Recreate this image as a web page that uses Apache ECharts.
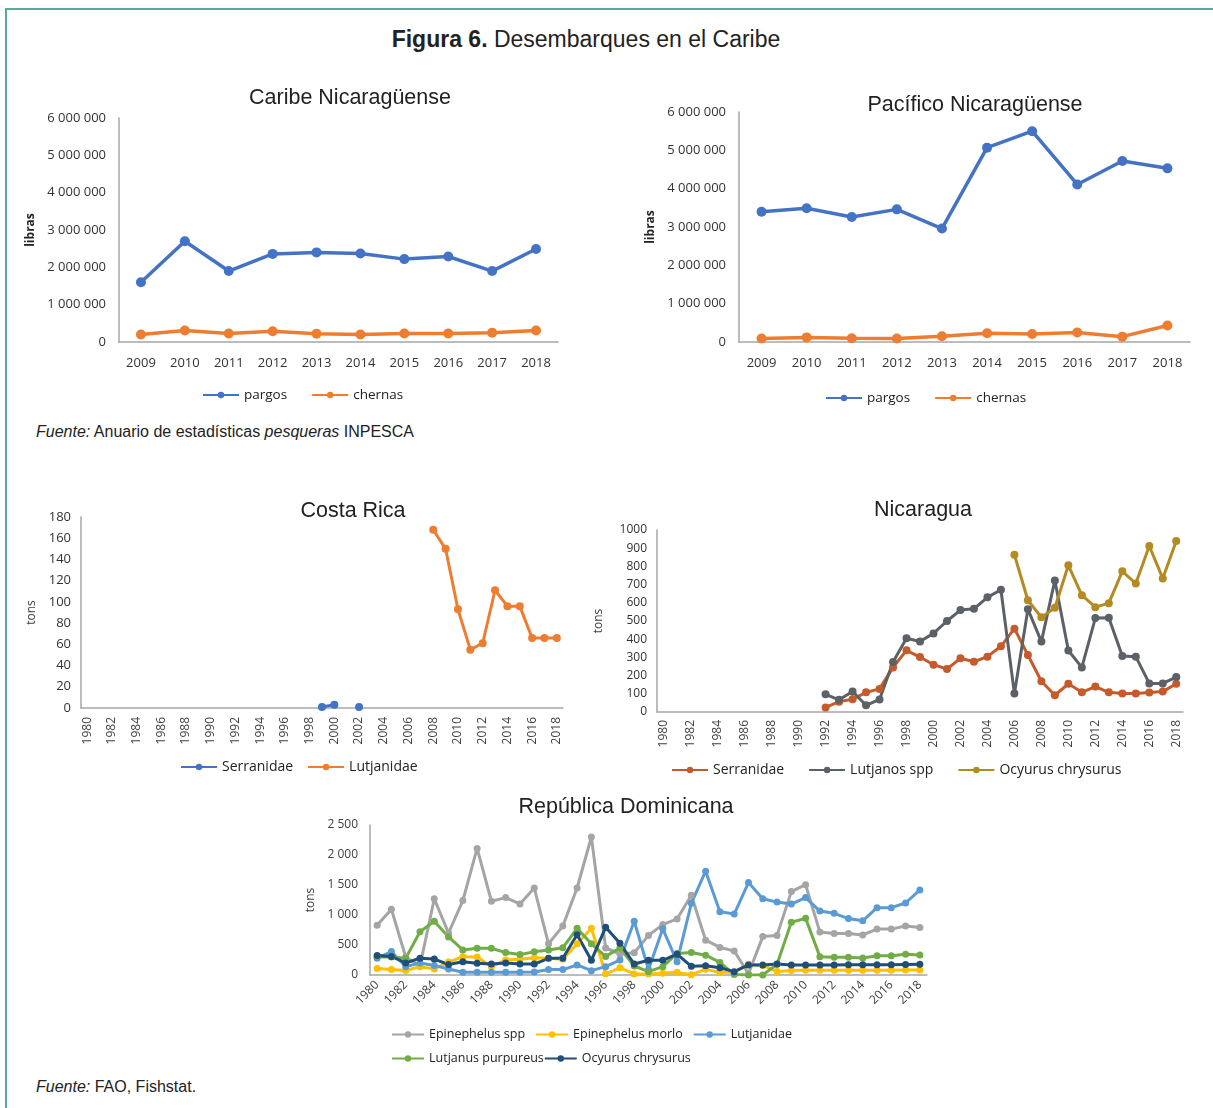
<!DOCTYPE html>
<html>
<head>
<meta charset="utf-8">
<script src="https://cdn.jsdelivr.net/npm/echarts@6/dist/echarts.min.js"></script>
<style>
  body { margin: 0; background: #fff; }
  .page { position: relative; width: 1213px; height: 1108px; overflow: hidden; font-family: "Liberation Sans", Arial, sans-serif; color: #222; }
  .frame { position: absolute; left: 5px; top: 8px; width: 1230px; height: 1120px; border-top: 2px solid #5aa79e; border-left: 2px solid #5aa79e; }
  .head { position: absolute; left: 0; top: 26px; width: 1172px; text-align: center; font-size: 23px; }
  .src { position: absolute; left: 36px; font-size: 16px; }
  .chart { position: absolute; }
</style>
</head>
<body>
<div class="page">
  <div class="frame"></div>
  <div class="head"><b>Figura 6.</b> Desembarques en el Caribe</div>
  <div class="chart" id="caribe" style="left:0;top:80px;width:600px;height:340px"></div>
  <div class="chart" id="pacifico" style="left:600px;top:80px;width:613px;height:340px"></div>
  <div class="src" style="top:423px"><i>Fuente:</i> Anuario de estadísticas <i>pesqueras</i> INPESCA</div>
  <div class="chart" id="costarica" style="left:0;top:490px;width:580px;height:300px"></div>
  <div class="chart" id="nicaragua" style="left:580px;top:490px;width:633px;height:300px"></div>
  <div class="chart" id="dominicana" style="left:300px;top:790px;width:640px;height:290px"></div>
  <div class="src" style="top:1078px"><i>Fuente:</i> FAO, Fishstat.</div>
</div>

<script>
  // categorías
  var years0918 = ['2009', '2010', '2011', '2012', '2013', '2014', '2015', '2016', '2017', '2018'];
  var years8018 = ['1980', '1981', '1982', '1983', '1984', '1985', '1986', '1987', '1988', '1989',
                   '1990', '1991', '1992', '1993', '1994', '1995', '1996', '1997', '1998', '1999',
                   '2000', '2001', '2002', '2003', '2004', '2005', '2006', '2007', '2008', '2009',
                   '2010', '2011', '2012', '2013', '2014', '2015', '2016', '2017', '2018'];

  // Caribe / Pacífico Nicaragüense (libras)
  var caribePargos   = [1600000, 2700000, 1900000, 2360000, 2400000, 2370000, 2220000, 2290000, 1900000, 2490000];
  var caribeChernas  = [200000, 310000, 230000, 290000, 220000, 200000, 230000, 230000, 250000, 310000];
  var pacificoPargos = [3400000, 3490000, 3260000, 3460000, 2960000, 5070000, 5500000, 4110000, 4720000, 4530000];
  var pacificoChernas = [90000, 120000, 100000, 90000, 150000, 230000, 210000, 250000, 140000, 430000];

  // Costa Rica (tons)
  var crSerranidae = [1, 3, null, 1];            // desde 1999
  var crLutjanidae = [168, 150, 93, 55, 61, 111, 96, 96, 66, 66, 66];   // desde 2008

  // Nicaragua (tons)
  var niSerranidae = [25, 57, 70, 108, 127, 245, 339, 302, 260, 236, 295, 276, 304, 361, 458, 313, 169, 92, 155, 108, 140, 108, 101, 101, 107, 112, 155]; // desde 1992
  var niLutjanos   = [97, 67, 113, 37, 69, 275, 405, 387, 432, 500, 560, 567, 630, 672, 101, 565, 387, 723, 338, 245, 516, 518, 308, 304, 157, 157, 192];   // desde 1992
  var niOcyurus    = [864, 614, 520, 573, 806, 642, 576, 598, 773, 706, 912, 734, 939];  // desde 2006

  // República Dominicana (tons), 1980-2018
  var rdEpinephelus = [830, 1095, 300, 150, 1270, 700, 1240, 2110, 1230, 1290, 1185, 1450, 520, 815, 1450, 2300, 450, 350, 370, 660,
                       840, 935, 1330, 580, 460, 400, 20, 640, 660, 1390, 1505, 715, 690, 690, 667, 765, 765, 817, 792];
  var rdMorlo       = [110, 90, 75, 139, 100, 215, 306, 300, 139, 250, 261, 289, 278, 261, 520, 778, 20, 120, 17, 17,
                       28, 44, 5, 94, 44, 44, 180, 160, 60, 75, 80, 80, 80, 80, 80, 80, 80, 85, 85];
  var rdLutjanidae  = [280, 390, 139, 200, 160, 100, 45, 45, 45, 45, 45, 50, 90, 90, 167, 72, 139, 250, 895, 90,
                       770, 222, 1194, 1730, 1056, 1015, 1540, 1270, 1215, 1183, 1290, 1065, 1028, 940, 903, 1122, 1122, 1200, 1417];
  var rdPurpureus   = [300, 300, 280, 722, 895, 635, 417, 444, 444, 375, 340, 389, 417, 455, 778, 520, 310, 450, 150, 56,
                       139, 360, 375, 330, 210, 10, 0, 0, 180, 880, 944, 306, 294, 294, 285, 322, 322, 347, 333];
  var rdOcyurus     = [325, 310, 200, 280, 265, 175, 222, 194, 183, 200, 183, 183, 278, 280, 672, 245, 794, 528, 183, 245,
                       245, 347, 145, 153, 120, 56, 167, 167, 183, 167, 167, 167, 167, 172, 172, 172, 172, 175, 178];

  // rellenar con null los años sin dato
  function fromYear(year, values) {
    var out = [];
    for (var i = 0; i < years8018.length; i++) {
      var k = i - (year - 1980);
      out.push(k >= 0 && k < values.length ? values[k] : null);
    }
    return out;
  }

  function spaced(v) {
    return String(v).replace(/\B(?=(\d{3})+(?!\d))/g, ' ');
  }
  function plain(v) {
    return String(v);
  }

  var tickFont = { fontFamily: 'Open Sans', fontSize: 12, color: '#404040' };
  var axisGray = '#a6a6a6';

  function line(name, data, color, size, width) {
    return {
      name: name, type: 'line', data: data, color: color,
      symbol: 'circle', symbolSize: size,
      lineStyle: { width: width || 3, color: color },
      itemStyle: { color: color }
    };
  }

  function heading(text, x, y) {
    return [{
      type: 'text', x: x, y: y,
      style: { text: text, textAlign: 'center', textVerticalAlign: 'middle',
               font: '21.5px "Liberation Sans", Arial, sans-serif', fill: '#222' }
    }];
  }

  function grid(left, top, width, height) {
    return { left: left, top: top, width: width, height: height, outerBoundsMode: 'none', containLabel: false };
  }

  function xCat(data, extra) {
    return Object.assign({
      type: 'category', data: data, boundaryGap: true,
      axisLine: { lineStyle: { color: axisGray, width: 1.5 } },
      axisTick: { show: false },
      axisLabel: Object.assign({ margin: 12 }, tickFont)
    }, extra || {});
  }

  function yVal(max, interval, name, nameGap, extra) {
    return Object.assign({
      type: 'value', min: 0, max: max, interval: interval,
      name: name, nameLocation: 'middle', nameGap: nameGap,
      nameTextStyle: { fontFamily: 'Open Sans', fontSize: 12, color: '#404040' },
      axisLine: { show: true, lineStyle: { color: axisGray, width: 1.5 } },
      axisTick: { show: false },
      splitLine: { show: false },
      axisLabel: Object.assign({ margin: 12, formatter: spaced }, tickFont)
    }, extra || {});
  }

  function legend(left, top, extra) {
    return Object.assign({
      left: left, top: top, itemWidth: 36, itemHeight: 8, itemGap: 24,
      textStyle: { fontFamily: 'Open Sans', fontSize: 13, color: '#222' }
    }, extra || {});
  }

  var bigTicks = Object.assign({}, tickFont, { fontSize: 13, color: '#333' });
  var librasName = { fontFamily: 'Open Sans', fontSize: 12, fontWeight: 'bold', color: '#222' };

  // Caribe Nicaragüense
  var caribe = echarts.init(document.getElementById('caribe'));
  caribe.setOption({
    animation: false,
    graphic: heading('Caribe Nicaragüense', 350, 18),
    grid: grid(119, 38, 439, 224),
    legend: legend(197, 303, { textStyle: { fontFamily: 'Open Sans', fontSize: 13.5, color: '#222' } }),
    xAxis: xCat(years0918, { axisLabel: Object.assign({ margin: 15 }, bigTicks) }),
    yAxis: yVal(6000000, 1000000, 'libras', 80, {
      nameTextStyle: librasName,
      axisLabel: Object.assign({ margin: 13, formatter: spaced }, bigTicks)
    }),
    series: [
      line('pargos', caribePargos, '#4472c4', 10, 3.5),
      line('chernas', caribeChernas, '#ed7d31', 10, 3.5)
    ]
  });

  // Pacífico Nicaragüense
  var pacifico = echarts.init(document.getElementById('pacifico'));
  pacifico.setOption({
    animation: false,
    graphic: heading('Pacífico Nicaragüense', 375, 25),
    grid: grid(139, 32, 451, 230),
    legend: legend(220, 306, { textStyle: { fontFamily: 'Open Sans', fontSize: 13.5, color: '#222' } }),
    xAxis: xCat(years0918, { axisLabel: Object.assign({ margin: 15 }, bigTicks) }),
    yAxis: yVal(6000000, 1000000, 'libras', 80, {
      nameTextStyle: librasName,
      axisLabel: Object.assign({ margin: 13, formatter: spaced }, bigTicks)
    }),
    series: [
      line('pargos', pacificoPargos, '#4472c4', 10, 3.5),
      line('chernas', pacificoChernas, '#ed7d31', 10, 3.5)
    ]
  });

  // Costa Rica
  var costarica = echarts.init(document.getElementById('costarica'));
  costarica.setOption({
    animation: false,
    graphic: heading('Costa Rica', 353, 21),
    grid: grid(81, 27, 482, 191),
    legend: legend(175, 265, { itemGap: 14, textStyle: { fontFamily: 'Open Sans', fontSize: 14, color: '#222' } }),
    xAxis: xCat(years8018, { axisLabel: Object.assign({ rotate: 90, interval: 1, margin: 9 }, tickFont) }),
    yAxis: yVal(180, 20, 'tons', 41, { axisLabel: Object.assign({ margin: 10, formatter: plain }, tickFont, { fontSize: 13, color: '#333' }) }),
    series: [
      line('Serranidae', fromYear(1999, crSerranidae), '#4472c4', 8),
      line('Lutjanidae', fromYear(2008, crLutjanidae), '#ed7d31', 8)
    ]
  });

  // Nicaragua
  var nicaragua = echarts.init(document.getElementById('nicaragua'));
  nicaragua.setOption({
    animation: false,
    graphic: heading('Nicaragua', 343, 20),
    grid: grid(77, 40, 526, 182),
    legend: legend(86, 268, { itemGap: 24, textStyle: { fontFamily: 'Open Sans', fontSize: 14, color: '#222' } }),
    xAxis: xCat(years8018, { axisLabel: Object.assign({ rotate: 90, interval: 1, margin: 8 }, tickFont) }),
    yAxis: yVal(1000, 100, 'tons', 52, { axisLabel: Object.assign({ margin: 10, formatter: plain }, tickFont, { color: '#333' }) }),
    series: [
      line('Serranidae', fromYear(1992, niSerranidae), '#c55a2b', 8),
      line('Lutjanos spp', fromYear(1992, niLutjanos), '#5b6167', 8),
      line('Ocyurus chrysurus', fromYear(2006, niOcyurus), '#b48a22', 8)
    ]
  });

  // República Dominicana
  var rdLegendText = { fontFamily: 'Open Sans', fontSize: 12.5, color: '#222' };
  var dominicana = echarts.init(document.getElementById('dominicana'));
  dominicana.setOption({
    animation: false,
    graphic: heading('República Dominicana', 326, 17),
    grid: grid(70, 35, 557, 150),
    legend: [
      legend(86, 233, { itemWidth: 32, itemGap: 10, textStyle: rdLegendText,
                        data: ['Epinephelus spp', 'Epinephelus morlo', 'Lutjanidae'] }),
      legend(86, 257, { itemWidth: 32, itemGap: 0, textStyle: rdLegendText,
                        data: ['Lutjanus purpureus', 'Ocyurus chrysurus'] })
    ],
    xAxis: xCat(years8018, { axisLabel: Object.assign({ rotate: 45, interval: 1, margin: 8 }, tickFont) }),
    yAxis: yVal(2500, 500, 'tons', 46),
    series: [
      line('Epinephelus spp', rdEpinephelus, '#a5a5a5', 7),
      line('Epinephelus morlo', rdMorlo, '#ffc000', 7),
      line('Lutjanidae', rdLutjanidae, '#5b9bd5', 7),
      line('Lutjanus purpureus', rdPurpureus, '#70ad47', 7),
      line('Ocyurus chrysurus', rdOcyurus, '#1f4e79', 7)
    ]
  });
</script>
</body>
</html>
